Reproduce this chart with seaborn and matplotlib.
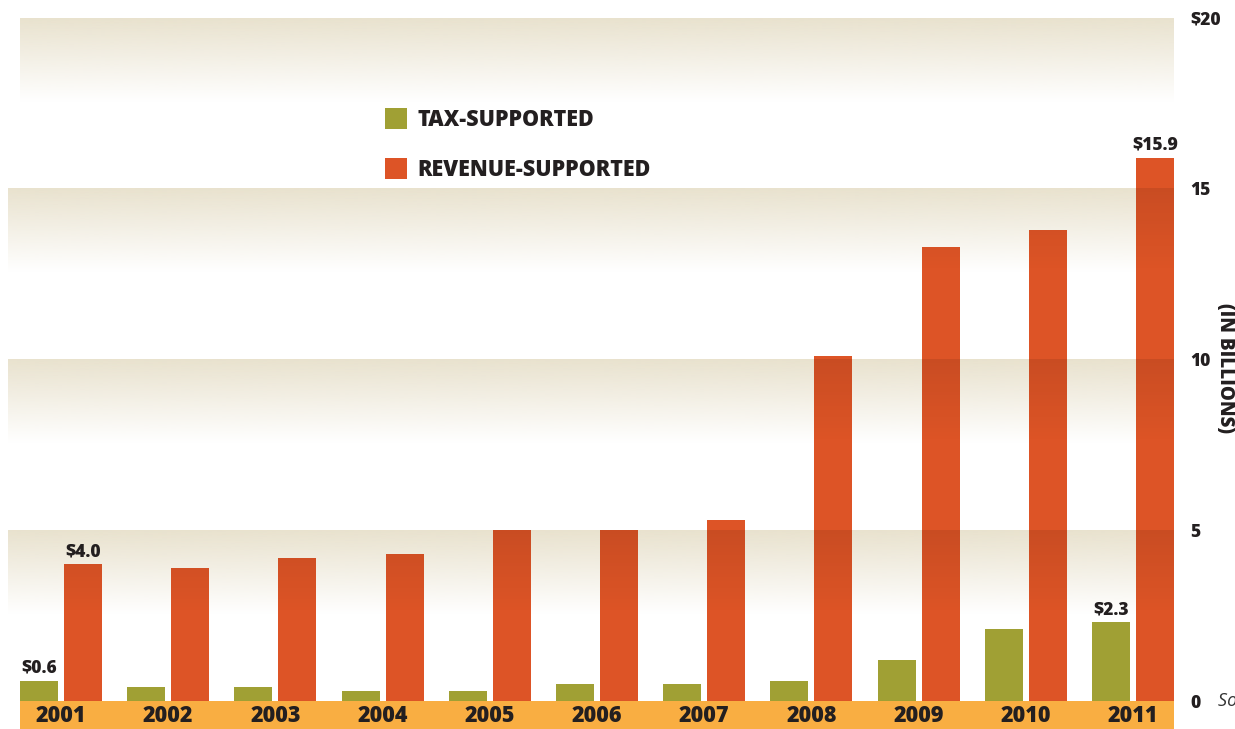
import numpy as np
import pandas as pd
import matplotlib
matplotlib.use("Agg")
import matplotlib.pyplot as plt
import seaborn as sns
from matplotlib.patches import Patch
from matplotlib.path import Path

# data (billions of dollars)
years = ["2001", "2002", "2003", "2004", "2005", "2006",
         "2007", "2008", "2009", "2010", "2011"]
tax_supported = [0.6, 0.4, 0.4, 0.3, 0.3, 0.5, 0.5, 0.6, 1.2, 2.1, 2.3]
revenue_supported = [4.0, 3.9, 4.2, 4.3, 5.0, 5.0, 5.3, 10.1, 13.3, 13.8, 15.9]
series_names = ["TAX-SUPPORTED", "REVENUE-SUPPORTED"]
y_ticks = [0, 5, 10, 15, 20]
y_tick_labels = ["0", "5", "10", "15", "$20"]

OLIVE = "#A0A034"
ORANGE = "#DD5426"
STRIP = "#F9AE42"
TAN = np.array([233, 226, 206]) / 255
INK = "#231F20"
WEIGHT = "heavy"

df = pd.DataFrame({
    "year": years * 2,
    "value": tax_supported + revenue_supported,
    "type": [series_names[0]] * len(years) + [series_names[1]] * len(years),
})

sns.set_style("white")
plt.rcParams["font.family"] = ["Open Sans", "DejaVu Sans"]

W, H = 1235, 729
fig = plt.figure(figsize=(W / 100, H / 100), dpi=100)
ax = fig.add_axes([0, 0, 1180 / W, 1])

sns.barplot(data=df, x="year", y="value", hue="type", hue_order=series_names,
            palette={series_names[0]: OLIVE, series_names[1]: ORANGE},
            saturation=1, width=0.82, gap=0.136, errorbar=None,
            legend=False, ax=ax, zorder=2, edgecolor="none", linewidth=0)

# axis limits derived from pixel layout of the reference
px_per_unit_y = (701 - 18) / 20
px_per_unit_x = 107.2
ymin = -(H - 701) / px_per_unit_y
ymax = 20 + 18 / px_per_unit_y
xmin = -61 / px_per_unit_x
xmax = xmin + 1180 / px_per_unit_x
ax.set_autoscale_on(False)

bars = [p for c in ax.containers for p in c]
bar_left = min(p.get_x() for p in bars)
bar_right = max(p.get_x() + p.get_width() for p in bars)
band_left = (8 - 61) / px_per_unit_x
band_h = 2.45

# background gradient bands (tan -> white) below bars
n = 256
for v in [5, 10, 15, 20]:
    grad = np.zeros((n, 1, 4))
    grad[:, 0, :3] = TAN
    grad[:, 0, 3] = np.linspace(1, 0, n)
    left = bar_left if v == 20 else band_left
    ax.imshow(grad, extent=(left, bar_right, v - band_h, v), origin="upper",
              aspect="auto", interpolation="bilinear", zorder=0)

# darkening of the bars where they cross a band (multiply look)
bar_path = Path.make_compound_path(
    *[p.get_path().transformed(p.get_patch_transform()) for p in bars])
for v in [5, 10, 15, 20]:
    shade = np.zeros((n, 1, 4))
    shade[:, 0, 3] = np.linspace(0.09, 0, n)
    im = ax.imshow(shade, extent=(band_left, bar_right, v - band_h, v),
                   origin="upper", aspect="auto", interpolation="bilinear",
                   zorder=3)
    im.set_clip_path(bar_path, ax.transData)

# year strip along the bottom
ax.fill_between([bar_left, bar_right], ymin, 0, color=STRIP, lw=0, zorder=1)
for i, yr in enumerate(years):
    ax.text(i, ymin / 2 - 0.02, yr, ha="center", va="center", fontsize=15.5,
            fontweight=WEIGHT, color=INK, zorder=4)

# value labels only for first and last years
tax_labels = ["" for _ in years]
rev_labels = ["" for _ in years]
tax_labels[0] = f"${tax_supported[0]:.1f}"
tax_labels[-1] = f"${tax_supported[-1]:.1f}"
rev_labels[0] = f"${revenue_supported[0]:.1f}"
rev_labels[-1] = f"${revenue_supported[-1]:.1f}"
ax.bar_label(ax.containers[0], labels=tax_labels, padding=3, fontsize=12.5,
             fontweight=WEIGHT, color=INK)
ax.bar_label(ax.containers[1], labels=rev_labels, padding=3, fontsize=12.5,
             fontweight=WEIGHT, color=INK)

ax.set_xlim(xmin, xmax)
ax.set_ylim(ymin, ymax)
ax.set_xticks([])
ax.yaxis.tick_right()
ax.set_yticks(y_ticks)
ax.set_yticklabels(y_tick_labels, fontsize=12.5, fontweight=WEIGHT, color=INK)
ax.tick_params(axis="y", length=0, pad=7.5)
ax.set_xlabel("")
ax.set_ylabel("")
for s in ax.spines.values():
    s.set_visible(False)

fig.text(1225 / W, 1 - 368 / H, "(IN BILLIONS)", rotation=-90, ha="center",
         va="center", fontsize=13.5, fontweight=WEIGHT, color=INK)
fig.text(1218 / W, 1 - 701 / H, "Source: Texas Bond Review Board",
         ha="left", va="center", fontsize=13, style="italic", color="#333333")

handles = [Patch(facecolor=OLIVE, edgecolor="none"),
           Patch(facecolor=ORANGE, edgecolor="none")]
fig.legend(handles, series_names, loc="upper left",
           bbox_to_anchor=(385 / W, 1 - 108 / H), frameon=False,
           handlelength=1.0, handleheight=1.1, handletextpad=0.5,
           labelspacing=1.2, borderpad=0, borderaxespad=0,
           prop={"weight": WEIGHT, "size": 15.5}, labelcolor=INK)

fig.savefig("out.png", dpi=100, facecolor="white")
